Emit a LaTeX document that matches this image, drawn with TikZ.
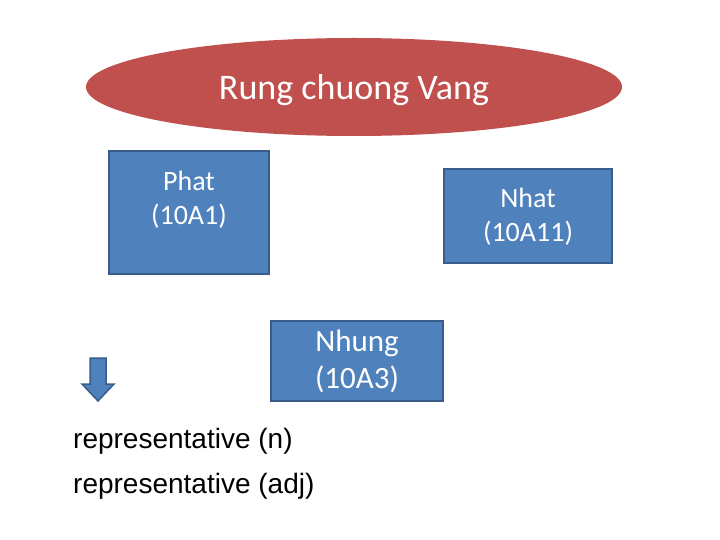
\documentclass[tikz,border=0pt]{standalone}
\usepackage{fontspec}
\setmainfont{Carlito}
\newfontfamily\arial{Liberation Sans}
\usetikzlibrary{shapes.geometric}
\definecolor{vermelho}{HTML}{C0504D}
\definecolor{azul}{HTML}{4F81BD}
\definecolor{azulesc}{HTML}{385D8A}

\begin{document}
\begin{tikzpicture}[x=1pt, y=-1pt,
	caixa/.style={draw=azulesc, line width=2.8pt, fill=azul, inner sep=0pt},
	rotulo/.style={text=white, align=center, font=\fontsize{28}{34}\selectfont},
	texto/.style={anchor=base west, inner sep=0pt, font=\arial\fontsize{28}{34}\selectfont}]
	\useasboundingbox (0,0) rectangle (720,540);
	% Elipse
	\node [ellipse, fill=vermelho, minimum width=536pt, minimum height=98pt,
		label={[rotulo, font=\fontsize{36}{43}\selectfont, yshift=-3pt]center:Rung chuong Vang}]
		(rcv) at (354,87) {};
	% Caixas
	\node [caixa, minimum width=160pt, minimum height=123pt,
		label={[rotulo, yshift=13pt]center:Phat\\(10A1)}] (phat) at (189,212.5) {};
	\node [caixa, minimum width=168pt, minimum height=94pt,
		label={[rotulo, yshift=-1pt]center:Nhat\\(10A11)}] (nhat) at (528,216) {};
	\node [caixa, minimum width=172pt, minimum height=80pt,
		label={[rotulo, font=\fontsize{31}{37}\selectfont]center:Nhung\\(10A3)}] (nhung) at (357,361) {};
	% Seta
	\filldraw [draw=azulesc, fill=azul, line width=1.5pt]
		(90,358) -- (106,358) -- (106,384) -- (114,384) -- (98,401) -- (82,384) -- (90,384) -- cycle;
	% Texto
	\node [texto] (repn) at (73,448) {representative (n)};
	\node [texto] (repadj) at (73,493) {representative (adj)};
\end{tikzpicture}
\end{document}
